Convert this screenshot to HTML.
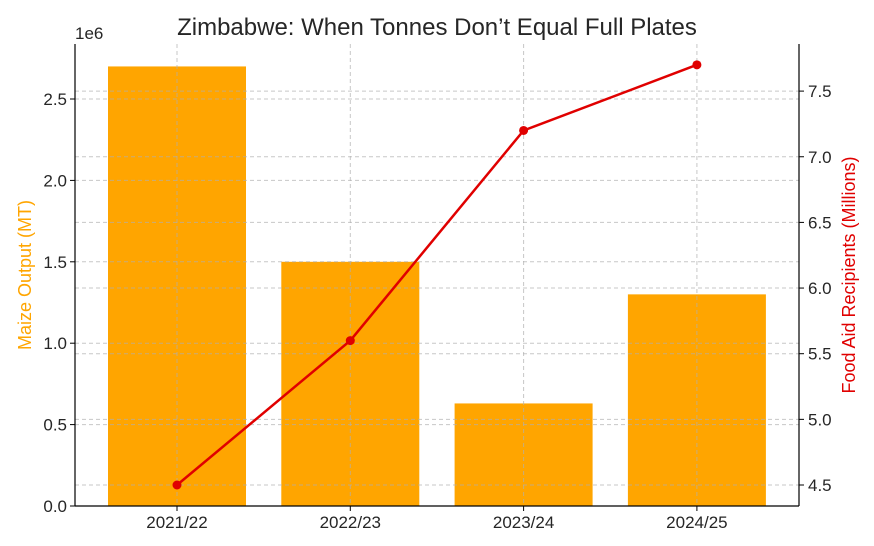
<!DOCTYPE html>
<html><head><meta charset="utf-8"><style>
body{margin:0;background:#fff;}
svg{display:block;font-family:"Liberation Sans","DejaVu Sans",sans-serif;}
</style></head><body>
<svg id="chart" width="874" height="546" viewBox="0 0 874 546">
<text x="437" y="35" text-anchor="middle" font-size="24" fill="#262626">Zimbabwe: When Tonnes Don’t Equal Full Plates</text>
<g id="bars"></g><g id="grid"></g><g id="axes"></g><g id="line"></g>
</svg>
<script>
const categories=["2021/22","2022/23","2023/24","2024/25"];
const maizeOutput=[2700000,1500000,630000,1300000];
const aidRecipients=[4.5,5.6,7.2,7.7];
const leftTicks=[0,0.5,1.0,1.5,2.0,2.5];
const rightTicks=[4.5,5.0,5.5,6.0,6.5,7.0,7.5];
const NS="http://www.w3.org/2000/svg";
const L=75,R=799,T=44,B=506;
const xC=i=>177+i*173.3;
const yL=v=>506-v/1e6*162.8;
const yR=v=>485-(v-4.5)*131.3;
function mk(parent,tag,attrs,text){const e=document.createElementNS(NS,tag);for(const k in attrs)e.setAttribute(k,attrs[k]);if(text!==undefined)e.textContent=text;document.getElementById(parent).appendChild(e);return e;}
maizeOutput.forEach((v,i)=>{
 const b=mk("bars","rect",{x:xC(i)-69,y:yL(v),width:138,height:B-yL(v),fill:"#ffa500"});
 
 
});
leftTicks.forEach(t=>{const y=yL(t*1e6);
 const g=mk("grid","line",{x1:L,x2:R,y1:y,y2:y,stroke:"#b0b0b0","stroke-width":1,"stroke-dasharray":"4,3",opacity:0.7});
 
 mk("axes","line",{x1:L-5,x2:L,y1:y,y2:y,stroke:"#000"});
 const l=mk("axes","text",{x:L-8,y:y+6,"text-anchor":"end","font-size":17,fill:"#262626"},t.toFixed(1));
 
});
rightTicks.forEach(t=>{const y=yR(t);
 const g=mk("grid","line",{x1:L,x2:R,y1:y,y2:y,stroke:"#b0b0b0","stroke-width":1,"stroke-dasharray":"4,3",opacity:0.7});
 
 mk("axes","line",{x1:R,x2:R+5,y1:y,y2:y,stroke:"#000"});
 const l=mk("axes","text",{x:R+9,y:y+6,"font-size":17,fill:"#262626"},t.toFixed(1));
 
});
categories.forEach((c,i)=>{const x=xC(i);
 const g=mk("grid","line",{x1:x,x2:x,y1:T,y2:B,stroke:"#b0b0b0","stroke-width":1,"stroke-dasharray":"4,3",opacity:0.7});
 
 mk("axes","line",{x1:x,x2:x,y1:B,y2:B+5,stroke:"#000"});
 const l=mk("axes","text",{x:x,y:B+22,"text-anchor":"middle","font-size":17,fill:"#262626"},c);
 
});
mk("axes","line",{x1:L,x2:L,y1:T,y2:B,stroke:"#000","stroke-width":1.2});
mk("axes","line",{x1:R,x2:R,y1:T,y2:B,stroke:"#000","stroke-width":1.2});
mk("axes","line",{x1:L,x2:R,y1:B,y2:B,stroke:"#000","stroke-width":1.2});
const off=mk("axes","text",{x:75,y:39,"font-size":17,fill:"#262626"},"1e6");

const yl=mk("axes","text",{x:0,y:0,transform:"translate(31,275) rotate(-90)","text-anchor":"middle","font-size":18,fill:"#ffa500"},"Maize Output (MT)");

const yr=mk("axes","text",{x:0,y:0,transform:"translate(855,275) rotate(-90)","text-anchor":"middle","font-size":18,fill:"#e00000"},"Food Aid Recipients (Millions)");

const pl=mk("line","polyline",{points:aidRecipients.map((v,i)=>xC(i)+","+yR(v)).join(" "),fill:"none",stroke:"#e00000","stroke-width":2.5});

aidRecipients.forEach((v,i)=>{
 const p=mk("line","circle",{cx:xC(i),cy:yR(v),r:4.5,fill:"#e00000"});
 
});
</script>
</body></html>
